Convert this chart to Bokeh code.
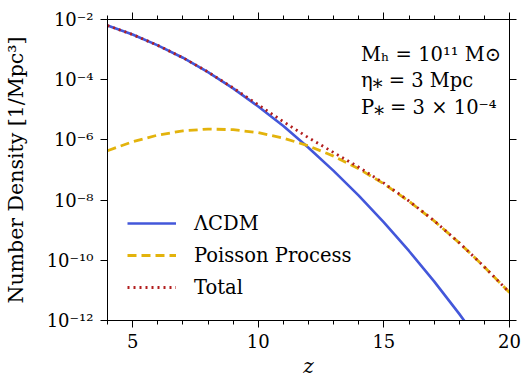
from bokeh.plotting import figure
from bokeh.models import (LinearAxis, LogAxis, FixedTicker, Legend, LegendItem,
                          Label, Range1d, CustomLabelingPolicy)
from bokeh.embed import file_html
from bokeh.resources import INLINE

# ---------------- data ----------------
z = [4, 5, 6, 7, 8, 9, 10, 11, 12, 13, 14, 15, 16, 17, 18, 19, 20]
log_lcdm = [-2.20, -2.50, -2.86, -3.27, -3.75, -4.29, -4.89, -5.54, -6.26,
            -7.03, -7.85, -8.74, -9.69, -10.70, -11.78, -12.92, -14.12]
log_poisson = [-6.36, -6.06, -5.84, -5.70, -5.64, -5.66, -5.76, -5.94, -6.20,
               -6.54, -6.96, -7.46, -8.04, -8.69, -9.42, -10.22, -11.07]
lcdm = [10 ** v for v in log_lcdm]
poisson = [10 ** v for v in log_poisson]
total = [a + b for a, b in zip(lcdm, poisson)]

series_labels = ["ΛCDM", "Poisson Process", "Total"]
x_major = [5, 10, 15, 20]
x_minor = list(range(4, 21))
y_major = [1e-12, 1e-10, 1e-8, 1e-6, 1e-4, 1e-2]
y_tick_labels = ["10⁻¹²", "10⁻¹⁰", "10⁻⁸", "10⁻⁶", "10⁻⁴", "10⁻²"]
annotations = ["Mₕ = 10¹¹ M⊙", "η⁎ = 3 Mpc", "P⁎ = 3 × 10⁻⁴"]
x_title = "z"
y_title = "Number Density [1/Mpc³]"

FONT = "DejaVu Serif"
BLUE = "#4357da"
YELLOW = "#e3b30c"
RED = "#b21e1e"

p = figure(frame_width=402, frame_height=301,
           x_range=Range1d(4, 20), y_range=Range1d(1e-12, 1e-2),
           y_axis_type="log", output_backend="svg", toolbar_location=None,
           min_border_left=107, min_border_right=12, min_border_top=19,
           min_border_bottom=61)
p.xgrid.visible = False
p.ygrid.visible = False
p.outline_line_color = "black"
p.outline_line_width = 1
p.background_fill_color = "white"
p.border_fill_color = "white"

r1 = p.line(z, lcdm, line_color=BLUE, line_width=2.6)
r2 = p.line(z, poisson, line_color=YELLOW, line_width=2.8, line_dash="9 5")
r3 = p.line(z, total, line_color=RED, line_width=2.8, line_dash="2 4")

xt = FixedTicker(ticks=x_major, minor_ticks=x_minor)
yt = FixedTicker(ticks=y_major, minor_ticks=[])

def style(ax):
    ax.axis_line_color = "black"
    ax.major_tick_line_color = "black"
    ax.minor_tick_line_color = "black"
    ax.major_tick_in = 0
    ax.major_tick_out = 7
    ax.minor_tick_in = 0
    ax.minor_tick_out = 4
    ax.major_label_text_color = "black"
    ax.major_label_text_font = FONT
    ax.major_label_text_font_size = "18px"
    ax.axis_label_text_color = "black"
    ax.axis_label_text_font = FONT
    ax.axis_label_text_font_size = "20.5px"
    ax.axis_label_text_font_style = "normal"

xa = p.xaxis[0]
xa.ticker = xt
style(xa)
xa.major_label_standoff = 6
xa.axis_label = x_title
xa.axis_label_text_font_style = "italic"
xa.axis_label_text_font_size = "20px"
xa.axis_label_standoff = 3

ya = p.yaxis[0]
ya.ticker = yt
style(ya)
ya.major_label_overrides = dict(zip(y_major, y_tick_labels))
ya.major_label_standoff = 7
ya.axis_label = y_title
ya.axis_label_standoff = 16

top = LinearAxis(ticker=xt)
style(top)
top.major_label_policy = CustomLabelingPolicy(code="return new Set()")
top.major_label_text_font_size = "1px"
top.major_label_standoff = 0
p.add_layout(top, "above")

right = LogAxis(ticker=yt)
style(right)
right.major_label_policy = CustomLabelingPolicy(code="return new Set()")
right.major_label_text_font_size = "1px"
right.major_label_standoff = 0
p.add_layout(right, "right")

legend = Legend(items=[LegendItem(label=series_labels[0], renderers=[r1]),
                       LegendItem(label=series_labels[1], renderers=[r2]),
                       LegendItem(label=series_labels[2], renderers=[r3])],
                location=(20, 17), border_line_alpha=0, background_fill_alpha=0,
                glyph_width=49, glyph_height=32, label_height=32, spacing=0,
                padding=0, margin=0, label_standoff=18,
                label_text_font=FONT, label_text_font_size="19.5px",
                label_text_color="black")
p.add_layout(legend)

ann_y = [10 ** -3.15, 10 ** -4.03, 10 ** -4.92]
for txt, yy in zip(annotations, ann_y):
    p.add_layout(Label(x=14.09, y=yy, text=txt, text_font=FONT,
                       text_font_size="19.5px", text_color="black",
                       text_baseline="alphabetic", text_align="left"))

open("out.html", "w").write(file_html(p, INLINE))
